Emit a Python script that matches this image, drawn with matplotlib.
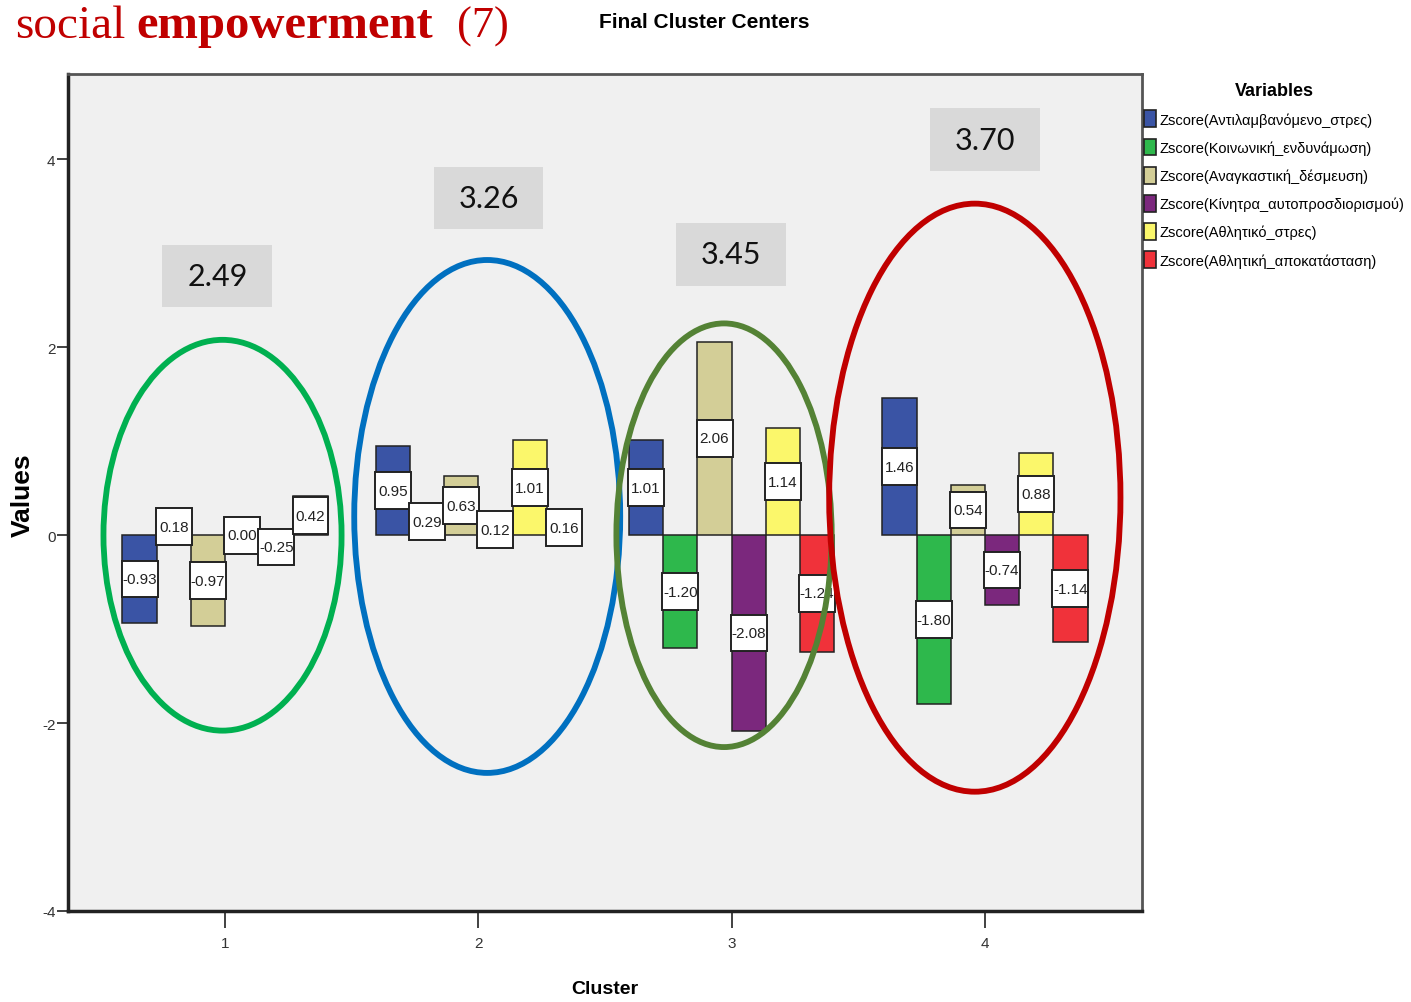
import numpy as np
import matplotlib.pyplot as plt
from matplotlib.patches import Ellipse, Rectangle, Patch

clusters = [1, 2, 3, 4]
variables = [
    "Zscore(Αντιλαμβανόμενο_στρες)",
    "Zscore(Κοινωνική_ενδυνάμωση)",
    "Zscore(Αναγκαστική_δέσμευση)",
    "Zscore(Κίνητρα_αυτοπροσδιορισμού)",
    "Zscore(Αθλητικό_στρες)",
    "Zscore(Αθλητική_αποκατάσταση)",
]
# rows = variables, columns = clusters
centers = [
    [-0.93, 0.95, 1.01, 1.46],
    [0.18, 0.29, -1.20, -1.80],
    [-0.97, 0.63, 2.06, 0.54],
    [0.00, 0.12, -2.08, -0.74],
    [-0.25, 1.01, 1.14, 0.88],
    [0.42, 0.16, -1.24, -1.14],
]
cluster_scores = ["2.49", "3.26", "3.45", "3.70"]

bar_colors = ["#3a54a5", "#2eb84c", "#d3ce97", "#7b287d", "#fbf76b", "#f0323a"]
ring_colors = ["#00b050", "#0070c0", "#548235", "#c00000"]

plt.rcParams['font.family'] = ["Liberation Sans", "DejaVu Sans"]
plt.rcParams['axes.unicode_minus'] = False

W, H = 1411, 1003
fig = plt.figure(figsize=(W / 100, H / 100), dpi=100)
ax = fig.add_axes([68 / W, 1 - 912 / H, (1142 - 68) / W, (912 - 75) / H])
ax.set_facecolor("#f0f0f0")

bw = 0.135
n = len(variables)
x = np.array(clusters, dtype=float)
box_w, box_h = bw * 1.05, 0.39
for i, (vals, col) in enumerate(zip(centers, bar_colors)):
    xs = x + (i - (n - 1) / 2) * bw
    ax.bar(xs, vals, width=bw, color=col, edgecolor="#222222", linewidth=1.1, zorder=2)
    for xi, v in zip(xs, vals):
        ax.add_patch(Rectangle((xi - box_w / 2, v / 2 - box_h / 2), box_w, box_h,
                               fc="white", ec="#222222", lw=1.4, zorder=3))
        ax.text(xi, v / 2, f"{v:.2f}", ha="center", va="center", fontsize=11,
                color="#222222", zorder=4)

# hand-drawn rings and score boxes from the slide
rings = [(0.99, 0.0, 0.94, 4.16), (2.035, 0.2, 1.05, 5.46),
         (2.97, 0.0, 0.85, 4.51), (3.96, 0.4, 1.15, 6.26)]
for (cx, cy, ew, eh), col in zip(rings, ring_colors):
    ax.add_patch(Ellipse((cx, cy), ew, eh, fill=False, ec=col, lw=4.2, zorder=5, clip_on=False))

boxes = [(0.97, 2.76), (2.04, 3.59), (2.996, 2.99), (4.0, 4.21)]
for (bx, by), s in zip(boxes, cluster_scores):
    ax.add_patch(Rectangle((bx - 0.217, by - 0.335), 0.434, 0.67, fc="#d9d9d9", ec="none", zorder=3))
    ax.text(bx, by, s, ha="center", va="center", fontsize=22, family=["Lato", "DejaVu Sans"],
            color="#111111", zorder=6)

ax.set_xlim(0.38, 4.62)
ax.set_ylim(-4, 4.91)
ax.set_xticks(clusters)
ax.set_yticks([-4, -2, 0, 2, 4])
ax.tick_params(axis="both", length=8, width=1.3, color="#333333", labelcolor="#333333", labelsize=11)
ax.tick_params(axis="y", pad=1)
ax.tick_params(axis="x", length=12, pad=6)
for side in ["left", "bottom"]:
    ax.spines[side].set_linewidth(2.5)
    ax.spines[side].set_color("#222222")
for side in ["top", "right"]:
    ax.spines[side].set_linewidth(2)
    ax.spines[side].set_color("#555555")

fig.text(23 / W, 1 - 495 / H, "Values", rotation=90, ha="center", va="center",
         fontsize=19, fontweight="bold")
fig.text(605 / W, 1 - 990 / H, "Cluster", ha="center", va="center", fontsize=14, fontweight="bold")
fig.text(704 / W, 1 - 22 / H, "Final Cluster Centers", ha="center", va="center",
         fontsize=15, fontweight="bold")

handles = [Patch(fc=c, ec="#222222", lw=1.2) for c in bar_colors]
leg = fig.legend(handles, variables, loc="upper left", bbox_to_anchor=(1141 / W, 1 - 80 / H),
                 title="Variables", frameon=False, fontsize=10.5, title_fontsize=13,
                 handlelength=0.8, handleheight=1.4, handletextpad=0.25, labelspacing=0.78,
                 borderaxespad=0, borderpad=0.2)
leg.get_title().set_fontweight("bold")

red = "#c00000"
serif = ["Liberation Serif", "DejaVu Serif"]
fig.text(15 / W, 1 - 38 / H, "social", fontsize=34, color=red, family=serif, va="baseline")
fig.text(136 / W, 1 - 38 / H, "empowerment", fontsize=35, color=red, family=serif,
         fontweight="bold", va="baseline")
fig.text(457 / W, 1 - 38 / H, "(7)", fontsize=32, color=red, family=serif, va="baseline")

fig.savefig("out.png", dpi=100)
